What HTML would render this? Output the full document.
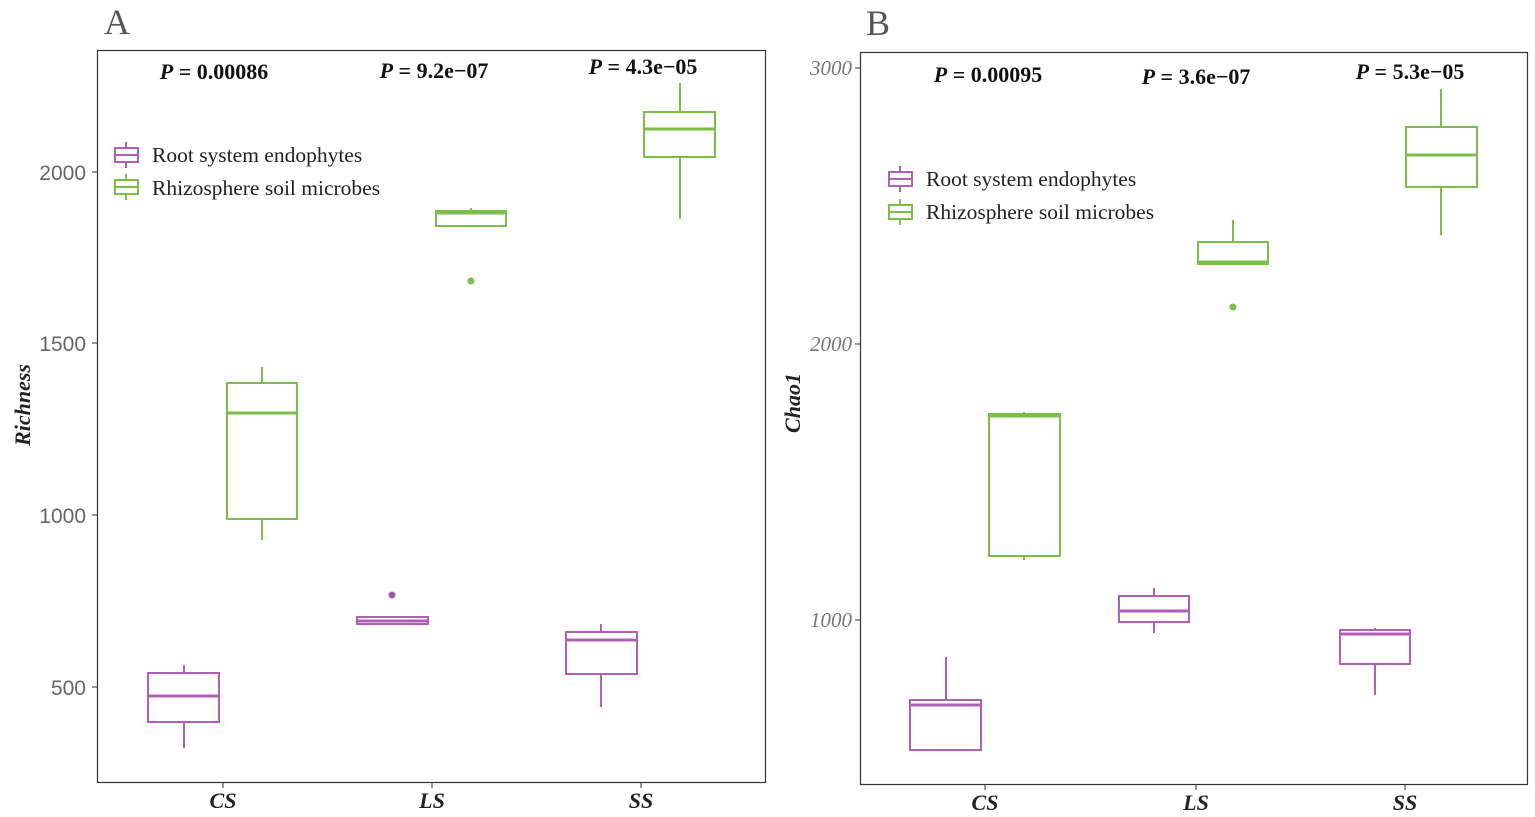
<!DOCTYPE html>
<html><head><meta charset="utf-8"><style>
body{margin:0;background:#fff}
svg{display:block}
.p{font-family:"Liberation Serif",serif;font-weight:bold;font-size:22px;fill:#111}
.lg{font-family:"Liberation Serif",serif;font-size:21.5px;fill:#222}
.ax{font-family:"Liberation Serif",serif;font-weight:bold;font-style:italic;font-size:22px;fill:#222}
.tk{font-family:"Liberation Sans",sans-serif;font-size:21px;fill:#666}
.tkb{font-family:"Liberation Serif",serif;font-style:italic;font-size:21px;fill:#777}
.pu{stroke:#b060b4;fill:none;stroke-width:2}
.gr{stroke:#7bbf4a;fill:none;stroke-width:2}
</style></head><body>
<svg width="1535" height="817" viewBox="0 0 1535 817">
<!-- Panel A -->
<text x="104" y="34" font-family="Liberation Serif,serif" font-size="36" fill="#555">A</text>
<rect x="97.5" y="50.5" width="668" height="732" fill="none" stroke="#333" stroke-width="1.2"/>
<g stroke="#333"><line x1="92" y1="172" x2="97" y2="172"/><line x1="92" y1="343" x2="97" y2="343"/><line x1="92" y1="515" x2="97" y2="515"/><line x1="92" y1="687" x2="97" y2="687"/>
<line x1="223" y1="783" x2="223" y2="788"/><line x1="432" y1="783" x2="432" y2="788"/><line x1="641" y1="783" x2="641" y2="788"/></g>
<text class="tk" x="86" y="180" text-anchor="end">2000</text>
<text class="tk" x="86" y="351" text-anchor="end">1500</text>
<text class="tk" x="86" y="523" text-anchor="end">1000</text>
<text class="tk" x="86" y="695" text-anchor="end">500</text>
<text class="ax" x="223" y="808" text-anchor="middle">CS</text>
<text class="ax" x="432" y="808" text-anchor="middle">LS</text>
<text class="ax" x="641" y="808" text-anchor="middle">SS</text>
<text class="ax" font-size="30" transform="translate(30,405) rotate(-90)" text-anchor="middle">Richness</text>
<text class="p" x="214" y="79" text-anchor="middle"><tspan font-style="italic">P</tspan> = 0.00086</text>
<text class="p" x="434" y="78" text-anchor="middle"><tspan font-style="italic">P</tspan> = 9.2e−07</text>
<text class="p" x="643" y="74" text-anchor="middle"><tspan font-style="italic">P</tspan> = 4.3e−05</text>
<g class="pu"><line x1="126" y1="142" x2="126" y2="168"/><rect x="115" y="148" width="23" height="14" fill="#fff"/><line x1="115" y1="155" x2="138" y2="155"/></g>
<g class="gr"><line x1="126" y1="174" x2="126" y2="200"/><rect x="115" y="180" width="23" height="14" fill="#fff"/><line x1="115" y1="187" x2="138" y2="187"/></g>
<text class="lg" x="152" y="162">Root system endophytes</text>
<text class="lg" x="152" y="195">Rhizosphere soil microbes</text>
<g class="pu"><line x1="184" y1="665" x2="184" y2="673"/><line x1="184" y1="722" x2="184" y2="748"/><rect x="148" y="673" width="71" height="49"/><line x1="148" y1="696" x2="219" y2="696" stroke-width="3"/></g>
<g class="gr"><line x1="262" y1="367" x2="262" y2="383"/><line x1="262" y1="519" x2="262" y2="540"/><rect x="227" y="383" width="70" height="136"/><line x1="227" y1="413" x2="297" y2="413" stroke-width="3"/></g>
<g class="pu"><rect x="357" y="617" width="71" height="7"/><line x1="357" y1="621" x2="428" y2="621" stroke-width="3"/></g>
<circle cx="392" cy="595" r="3.5" fill="#a459a6"/>
<g class="gr"><line x1="471" y1="208" x2="471" y2="211"/><rect x="436" y="211" width="70" height="15"/><line x1="436" y1="213" x2="506" y2="213" stroke-width="3"/></g>
<circle cx="471" cy="281" r="3.5" fill="#7bbf4a"/>
<g class="pu"><line x1="601" y1="624" x2="601" y2="632"/><line x1="601" y1="674" x2="601" y2="707"/><rect x="566" y="632" width="71" height="42"/><line x1="566" y1="640" x2="637" y2="640" stroke-width="3"/></g>
<g class="gr"><line x1="680" y1="83" x2="680" y2="112"/><line x1="680" y1="157" x2="680" y2="219"/><rect x="644" y="112" width="71" height="45"/><line x1="644" y1="129" x2="715" y2="129" stroke-width="3"/></g>

<!-- Panel B -->
<text x="866" y="35" font-family="Liberation Serif,serif" font-size="36" fill="#555">B</text>
<rect x="860.5" y="52.5" width="667" height="732" fill="none" stroke="#333" stroke-width="1.2"/>
<g stroke="#333"><line x1="855" y1="68" x2="860" y2="68"/><line x1="855" y1="344" x2="860" y2="344"/><line x1="855" y1="620" x2="860" y2="620"/>
<line x1="985" y1="785" x2="985" y2="790"/><line x1="1196" y1="785" x2="1196" y2="790"/><line x1="1405" y1="785" x2="1405" y2="790"/></g>
<text class="tkb" x="852" y="75" text-anchor="end">3000</text>
<text class="tkb" x="852" y="351" text-anchor="end">2000</text>
<text class="tkb" x="852" y="627" text-anchor="end">1000</text>
<text class="ax" x="985" y="810" text-anchor="middle">CS</text>
<text class="ax" x="1196" y="810" text-anchor="middle">LS</text>
<text class="ax" x="1405" y="810" text-anchor="middle">SS</text>
<text class="ax" font-size="28" transform="translate(800,403) rotate(-90)" text-anchor="middle">Chao1</text>
<text class="p" x="988" y="82" text-anchor="middle"><tspan font-style="italic">P</tspan> = 0.00095</text>
<text class="p" x="1196" y="84" text-anchor="middle"><tspan font-style="italic">P</tspan> = 3.6e−07</text>
<text class="p" x="1410" y="79" text-anchor="middle"><tspan font-style="italic">P</tspan> = 5.3e−05</text>
<g class="pu"><line x1="900" y1="166" x2="900" y2="192"/><rect x="889" y="172" width="23" height="14" fill="#fff"/><line x1="889" y1="179" x2="912" y2="179"/></g>
<g class="gr"><line x1="900" y1="199" x2="900" y2="225"/><rect x="889" y="205" width="23" height="14" fill="#fff"/><line x1="889" y1="212" x2="912" y2="212"/></g>
<text class="lg" x="926" y="186">Root system endophytes</text>
<text class="lg" x="926" y="219">Rhizosphere soil microbes</text>
<g class="pu"><line x1="946" y1="657" x2="946" y2="700"/><rect x="910" y="700" width="71" height="50"/><line x1="910" y1="705" x2="981" y2="705" stroke-width="3"/></g>
<g class="gr"><line x1="1024" y1="412" x2="1024" y2="414"/><line x1="1024" y1="556" x2="1024" y2="560"/><rect x="989" y="414" width="71" height="142"/><line x1="989" y1="416" x2="1060" y2="416" stroke-width="3"/></g>
<g class="pu"><line x1="1154" y1="588" x2="1154" y2="596"/><line x1="1154" y1="622" x2="1154" y2="633"/><rect x="1119" y="596" width="70" height="26"/><line x1="1119" y1="611" x2="1189" y2="611" stroke-width="3"/></g>
<g class="gr"><line x1="1233" y1="220" x2="1233" y2="242"/><rect x="1198" y="242" width="70" height="22"/><line x1="1198" y1="262" x2="1268" y2="262" stroke-width="3"/></g>
<circle cx="1233" cy="307" r="3.5" fill="#7bbf4a"/>
<g class="pu"><line x1="1375" y1="628" x2="1375" y2="630"/><line x1="1375" y1="664" x2="1375" y2="695"/><rect x="1340" y="630" width="70" height="34"/><line x1="1340" y1="634" x2="1410" y2="634" stroke-width="3"/></g>
<g class="gr"><line x1="1441" y1="89" x2="1441" y2="127"/><line x1="1441" y1="187" x2="1441" y2="235"/><rect x="1406" y="127" width="71" height="60"/><line x1="1406" y1="155" x2="1477" y2="155" stroke-width="3"/></g>
</svg>
</body></html>
